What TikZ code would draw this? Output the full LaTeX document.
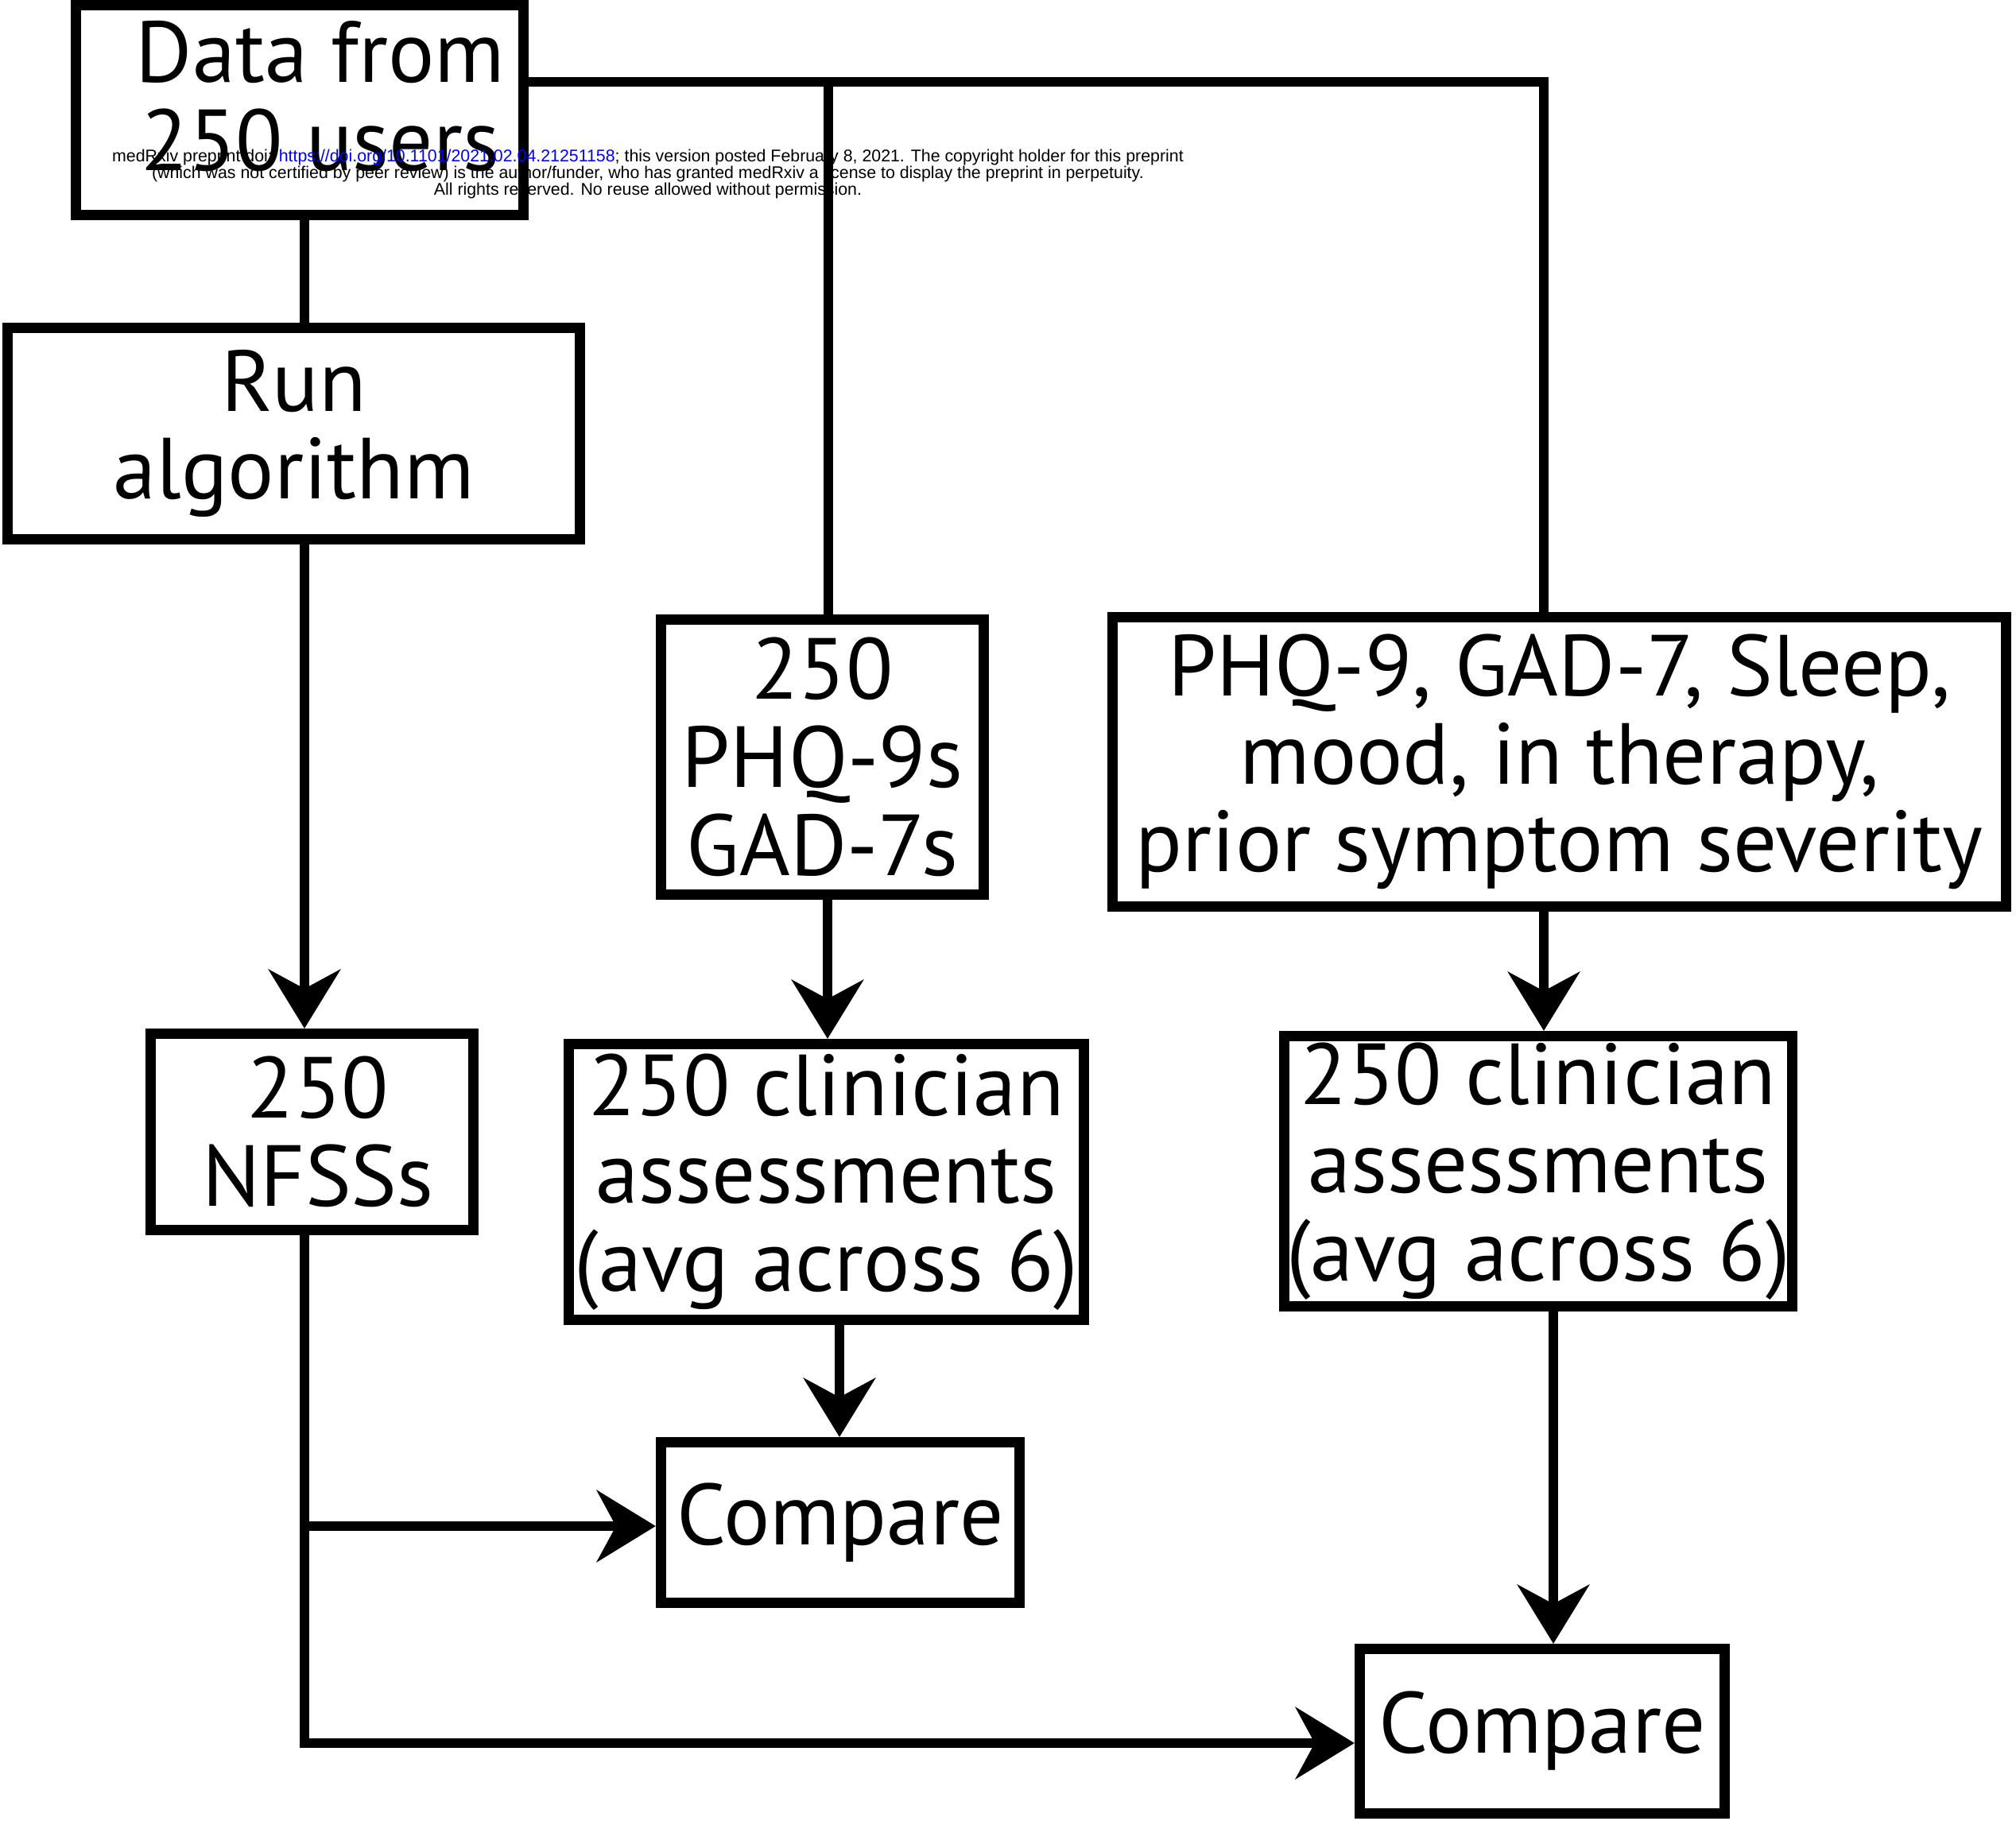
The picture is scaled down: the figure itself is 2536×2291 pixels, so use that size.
\documentclass[tikz,border=0pt]{standalone}
\usepackage{fontspec}
\setmainfont{PT Sans}
\newfontfamily\wmfont{Liberation Sans}
\usetikzlibrary{arrows.meta,calc}
\begin{document}
\begin{tikzpicture}[x=0.01cm,y=-0.01cm,
  box/.style={draw, line width=3.7pt, inner sep=0pt, align=center, font=\fontsize{31}{31.5}\selectfont},
  lbl/.style={inner sep=0pt, align=center, font=\fontsize{31}{31.5}\selectfont},
  conn/.style={line width=3.4pt},
  arr/.style={conn, -{Stealth[length=0.74cm,width=0.9cm,inset=0.24cm]}}]
\useasboundingbox (0,0) rectangle (2536,2291);
\node[box, minimum width=5.63cm, minimum height=2.64cm] (A) at (377,138.5) {};
\node[lbl] (Atext) at (403,121) {Data from\\250 users};
\node[box, minimum width=7.20cm, minimum height=2.66cm] (B) at (369.5,545.5) {Run\\algorithm};
\node[box, minimum width=4.06cm, minimum height=3.46cm] (C) at (1034.5,952.5) {250\\PHQ-9s\\GAD-7s};
\node[box, minimum width=11.24cm, minimum height=3.64cm] (D) at (1961.5,958.5) {PHQ-9, GAD-7, Sleep,\\mood, in therapy,\\prior symptom severity};
\node[box, minimum width=4.06cm, minimum height=2.47cm] (E) at (392.5,1424) {};
\node[lbl] (Etext) at (400,1424) {250\\NFSSs};
\node[box, minimum width=6.48cm, minimum height=3.47cm] (F) at (1039.5,1487) {250 clinician\\assessments\\(avg across 6)};
\node[box, minimum width=6.39cm, minimum height=3.40cm] (G) at (1935,1473.5) {250 clinician\\assessments\\(avg across 6)};
\node[box, minimum width=4.51cm, minimum height=2.02cm] (H) at (1057,1915.5) {Compare};
\node[box, minimum width=4.59cm, minimum height=2.07cm] (I) at (1940,2178) {Compare};
\coordinate (j1) at (1042,103);
\coordinate (j2) at (1942,103);
\coordinate (c1) at (383,0);
\coordinate (c2) at (1041,0);
\coordinate (c3) at (1056,0);
\coordinate (c4) at (1954,0);
\coordinate (k1) at (383,1920);
\coordinate (k2) at (383,2193);
\draw[conn] (A.east |- j1) -- (j2) -- (j2 |- D.north);
\draw[conn] (j1) -- (j1 |- C.north);
\draw[conn] (A.south -| c1) -- (B.north -| c1);
\draw[arr] (B.south -| c1) -- (E.north -| c1);
\draw[arr] (C.south -| c2) -- (F.north -| c2);
\draw[arr] (F.south -| c3) -- (H.north -| c3);
\draw[arr] (D.south -| j2) -- (G.north -| j2);
\draw[arr] (G.south -| c4) -- (I.north -| c4);
\draw[arr] (E.south -| c1) -- (k2) -- (I.west |- k2);
\draw[arr] (k1) -- (H.west |- k1);
\node[font=\wmfont\fontsize{6.07}{6.1}\selectfont, align=center] (wm) at (815,219) {medRxiv preprint doi: \textcolor{blue}{https://doi.org/10.1101/2021.02.04.21251158}; this version posted February 8, 2021. The copyright holder for this preprint\\(which was not certified by peer review) is the author/funder, who has granted medRxiv a license to display the preprint in perpetuity.\\All rights reserved. No reuse allowed without permission.};
\end{tikzpicture}
\end{document}
